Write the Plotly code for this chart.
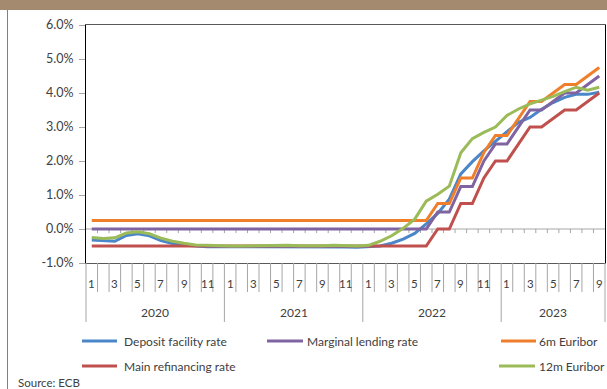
import plotly.graph_objects as go

# ---------------- data ----------------
years = ["2020", "2021", "2022", "2023"]
months_per_year = [12, 12, 12, 9]
month_labels = [str(m) for y, n in zip(years, months_per_year) for m in range(1, n + 1)]

deposit_facility = [-0.32, -0.33, -0.36, -0.19, -0.14, -0.20, -0.34, -0.43, -0.47, -0.50, -0.52, -0.52,
                    -0.53, -0.52, -0.52, -0.52, -0.51, -0.51, -0.51, -0.52, -0.52, -0.52, -0.53, -0.54,
                    -0.53, -0.50, -0.42, -0.30, -0.13, 0.15, 0.46, 0.88, 1.62, 1.98, 2.30, 2.58,
                    2.88, 3.14, 3.28, 3.52, 3.72, 3.87, 3.96, 3.96, 4.02]
main_refinancing = [-0.5] * 30 + [0.0, 0.0, 0.75, 0.75, 1.5, 2.0, 2.0, 2.5, 3.0, 3.0, 3.25, 3.5, 3.5, 3.75, 4.0]
marginal_lending = [0.0] * 30 + [0.5, 0.5, 1.25, 1.25, 2.0, 2.5, 2.5, 3.0, 3.5, 3.5, 3.75, 4.0, 4.0, 4.25, 4.5]
euribor_6m = [0.25] * 30 + [0.75, 0.75, 1.5, 1.5, 2.25, 2.75, 2.75, 3.25, 3.75, 3.75, 4.0, 4.25, 4.25, 4.5, 4.75]
euribor_12m = [-0.25, -0.28, -0.26, -0.12, -0.08, -0.14, -0.27, -0.36, -0.42, -0.47, -0.48, -0.50,
               -0.50, -0.50, -0.49, -0.48, -0.48, -0.48, -0.49, -0.50, -0.49, -0.48, -0.49, -0.50,
               -0.48, -0.36, -0.20, 0.02, 0.29, 0.82, 1.02, 1.26, 2.24, 2.66, 2.84, 3.00,
               3.34, 3.53, 3.68, 3.78, 3.90, 4.04, 4.17, 4.08, 4.17]

y_ticks = [-1, 0, 1, 2, 3, 4, 5, 6]

series = [
    ("Deposit facility rate", deposit_facility, "#4A86C8"),
    ("Main refinancing rate", main_refinancing, "#C0504D"),
    ("Marginal lending rate", marginal_lending, "#8064A2"),
    ("6m Euribor", euribor_6m, "#F07F2C"),
    ("12m Euribor", euribor_12m, "#9BBB59"),
]

# ---------------- layout geometry ----------------
W, H = 607, 389
L, R, T, B = 86, 2, 25, 126
PW, PH = W - L - R, H - T - B
N = len(month_labels)
FONT = "Lato"
TXT = "#404040"


def pxx(px):
    return (px - L) / PW


def pxy(py):
    return (H - B - py) / PH


x_idx = list(range(N))

fig = go.Figure()
for name, vals, col in series:
    fig.add_trace(go.Scatter(x=x_idx, y=vals, mode="lines", name=name,
                             line=dict(color=col, width=3), showlegend=False, hoverinfo="skip"))

shapes = []
annotations = []

# zero axis line with small ticks
shapes.append(dict(type="line", xref="x", yref="y", x0=-0.5, x1=N - 0.5, y0=0, y1=0,
                   line=dict(color="#a6a6a6", width=1), layer="below"))
for b in range(1, N):
    shapes.append(dict(type="line", xref="x", yref="y", x0=b - 0.5, x1=b - 0.5, y0=0, y1=-0.12,
                       line=dict(color="#a6a6a6", width=1), layer="below"))

# category boundary lines under the plot
year_starts = [0]
for n in months_per_year:
    year_starts.append(year_starts[-1] + n)
for b in range(N + 1):
    xb = b / N
    long = b in year_starts
    shapes.append(dict(type="line", xref="paper", yref="paper", x0=xb, x1=xb,
                       y0=0, y1=pxy(322 if long else 292),
                       line=dict(color="#a6a6a6", width=1)))

# month labels (odd months)
for i, lab in enumerate(month_labels):
    if int(lab) % 2 == 1:
        annotations.append(dict(x=i, xref="x", y=pxy(283), yref="paper", text=lab, showarrow=False,
                                font=dict(family=FONT, size=11.5, color=TXT), xanchor="center", yanchor="middle"))
# year labels
for k, yr in enumerate(years):
    c = (year_starts[k] + year_starts[k + 1] - 1) / 2
    annotations.append(dict(x=c, xref="x", y=pxy(312), yref="paper", text=yr, showarrow=False,
                            font=dict(family=FONT, size=12, color=TXT), xanchor="center", yanchor="middle"))

# legend (drawn manually)
legend_pos = {
    "Deposit facility rate": (82, 117, 122, 341),
    "Marginal lending rate": (267, 303, 305, 341),
    "6m Euribor": (501, 536, 537, 341),
    "Main refinancing rate": (82, 117, 122, 366),
    "12m Euribor": (499, 535, 537, 366),
}
for name, vals, col in series:
    x0, x1, tx, yy = legend_pos[name]
    shapes.append(dict(type="line", xref="paper", yref="paper", x0=pxx(x0), x1=pxx(x1),
                       y0=pxy(yy), y1=pxy(yy), line=dict(color=col, width=3)))
    annotations.append(dict(x=pxx(tx), xref="paper", y=pxy(yy), yref="paper", text=name, showarrow=False,
                            font=dict(family=FONT, size=12, color=TXT), xanchor="left", yanchor="middle"))

annotations.append(dict(x=pxx(16), xref="paper", y=pxy(382), yref="paper", text="Source: ECB", showarrow=False,
                        font=dict(family=FONT, size=11.5, color=TXT), xanchor="left", yanchor="middle"))

# header band and left frame line
shapes.append(dict(type="rect", xref="paper", yref="paper", x0=pxx(0), x1=pxx(W), y0=pxy(10), y1=pxy(0),
                   fillcolor="#A48B6F", line=dict(width=0)))
shapes.append(dict(type="line", xref="paper", yref="paper", x0=pxx(7.5), x1=pxx(7.5), y0=pxy(10), y1=pxy(H),
                   line=dict(color="#808080", width=1)))

fig.update_layout(
    width=W, height=H,
    margin=dict(l=L, r=R, t=T, b=B),
    paper_bgcolor="white", plot_bgcolor="white",
    showlegend=False,
    shapes=shapes, annotations=annotations,
    xaxis=dict(range=[-0.5, N - 0.5], showgrid=False, zeroline=False, showticklabels=False, ticks="",
               showline=True, linecolor="#595959", linewidth=1, mirror=True),
    yaxis=dict(range=[-1, 6], tickvals=y_ticks, ticktext=[f"{v:.1f}%" for v in y_ticks],
               showgrid=False, zeroline=False, ticks="outside", ticklen=6, tickcolor="#a6a6a6",
               ticklabelstandoff=3,
               showline=True, linecolor="#000000", linewidth=1, mirror=True,
               tickfont=dict(family=FONT, size=12.5, color=TXT)),
)

fig.write_html("out.html")
